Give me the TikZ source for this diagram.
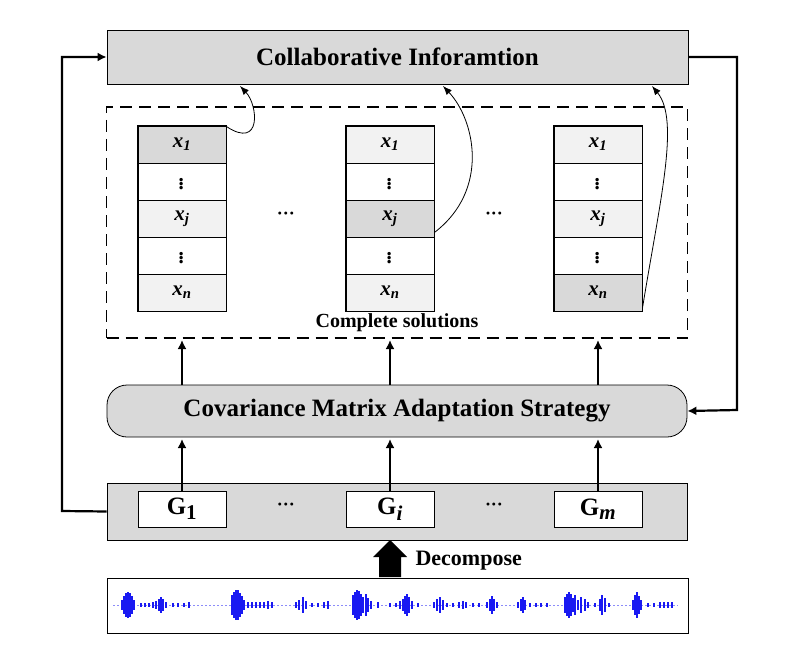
\documentclass[tikz,border=0pt]{standalone}
\usepackage{fontspec}
\setmainfont{Liberation Serif}
\usetikzlibrary{arrows.meta}
\definecolor{gA}{HTML}{D9D9D9}
\definecolor{gL}{HTML}{F2F2F2}
\definecolor{wav}{rgb}{0.1,0.1,0.95}
\begin{document}
\begin{tikzpicture}[x=1pt,y=-1pt,
  cell/.style={draw,line width=0.8pt,minimum width=88pt,minimum height=37pt,inner sep=0pt,font=\fontsize{21}{21}\selectfont\bfseries\itshape},
  colframe/.style={draw,line width=1.6pt},
  gbox/.style={draw,fill=white,line width=0.8pt,minimum width=88pt,minimum height=36pt,inner sep=0pt,font=\fontsize{25}{25}\selectfont\bfseries},
  arr/.style={line width=2.2pt,-{Latex[length=9pt,width=9pt]}},
  carr/.style={line width=0.8pt,-{Latex[length=9pt,width=7pt]}},
  dotsl/.style={font=\fontsize{18}{18}\selectfont\bfseries}]
\useasboundingbox (0,0) rectangle (789,663);
\node[draw,fill=gA,line width=0.8pt,minimum width=581pt,minimum height=54pt,inner sep=0pt,font=\fontsize{25}{25}\selectfont\bfseries] (ci) at (397.5,57) {Collaborative Inforamtion};
\node[draw,dashed,dash pattern=on 12pt off 7pt,line width=1.6pt,minimum width=581pt,minimum height=231pt,inner sep=0pt] (cs) at (397,222.5) {};
\node[font=\fontsize{20}{20}\selectfont\bfseries] (cst) at (397,323) {Complete solutions};
\foreach \c/\cx/\fa/\fb/\fc in {a/182/gA/gL/gL, b/390/gL/gA/gL, c/598/gL/gL/gA}{
  \node[cell,fill=\fa] (\c1) at (\cx,144.5) {x\textsubscript{1}};
  \node[cell,fill=white] (\c2) at (\cx,181.5) {$\vdots$};
  \node[cell,fill=\fb] (\c3) at (\cx,218.5) {x\textsubscript{j}};
  \node[cell,fill=white] (\c4) at (\cx,255.5) {$\vdots$};
  \node[cell,fill=\fc] (\c5) at (\cx,292.5) {x\textsubscript{n}};
  \draw[colframe] (\c1.north west) rectangle (\c5.south east);
}
\node[dotsl] (d1) at (286,216) {···};
\node[dotsl] (d2) at (494,216) {···};
\coordinate (ta) at (240,86);
\coordinate (tb) at (443,86);
\coordinate (tc) at (652,86);
\draw[carr] ([yshift=18pt]a1.east) .. controls (262,150) and (258,105) .. (ta);
\draw[carr] ([yshift=-14pt]b3.east) .. controls (490,190) and (475,120) .. (tb);
\draw[carr] ([yshift=-16pt]c5.east) .. controls (660,200) and (680,120) .. (tc);
\node[draw,fill=gA,line width=0.8pt,rounded corners=20pt,minimum width=580pt,minimum height=52pt,inner sep=0pt,font=\fontsize{25}{25}\selectfont\bfseries] (cma) at (397,411) {Covariance Matrix Adaptation Strategy};
\node[draw,fill=gA,line width=0.8pt,minimum width=580pt,minimum height=57pt,inner sep=0pt] (gbar) at (397,511.5) {};
\node[gbox] (g1) at (182,509) {G\textsubscript{\fontsize{21}{21}\selectfont 1}};
\node[gbox] (gi) at (390,509) {G\textsubscript{\fontsize{21}{21}\selectfont\itshape i}};
\node[gbox] (gm) at (598,509) {G\textsubscript{\fontsize{21}{21}\selectfont\itshape m}};
\node[dotsl] (d3) at (286,507) {···};
\node[dotsl] (d4) at (494,507) {···};
\foreach \n/\cx in {g1/182,gi/390,gm/598}{
  \draw[arr] (\n.north) -- (\cx,439);
  \draw[arr] (\cx,385) -- (\cx,340);
}
\draw[arr] (gbar.west) -- (62,511) -- (62,57) -- (ci.west);
\draw[arr] (ci.east) -- (737,57) -- (737,410) -- (cma.east);
\node[draw,line width=0.8pt,minimum width=581pt,minimum height=55pt,inner sep=0pt] (wbox) at (397.5,605.5) {};
\coordinate (dectip) at (390,540);
\fill (dectip) -- (407,557) -- (401,557) -- (401,577) -- (379,577) -- (379,557) -- (373,557) -- cycle;
\node[font=\fontsize{22}{22}\selectfont\bfseries,anchor=west] (dect) at (412,561) {Decompose};
\draw[wav!50,line width=0.6pt,dashed,dash pattern=on 2pt off 2pt] (113,605) -- (678,605);
\foreach \x/\h in {122/5,124/9,126/12,128/13,130/12,132/9,134/5,141/2,145/2,149/2,153/3,156/4,159/6,161/8,163/6,166/3,173/2,178/2,184/2,189/3,232/10,234/13,236/15,238/15,240/12,242/9,244/5,248/3,252/3,256/3,260/3,264/3,268/4,272/3,296/3,299/5,303/8,306/4,312/2,318/2,324/3,328/4,353/10,355/13,357/15,359/14,361/11,363/8,366/11,368/7,371/4,378/3,390/2,396/2,400/4,403/6,405/9,407/11,409/8,412/4,418/2,434/3,437/6,440/8,443/5,447/2,453/2,459/3,463/4,466/3,473/2,479/2,487/3,490/6,492/9,494/6,497/3,518/3,521/6,523/8,525/5,530/2,536/2,541/2,547/2,565/8,567/11,569/13,571/11,573/7,575/10,578/5,581/8,585/6,588/3,595/2,600/6,602/10,605/7,609/2,633/5,635/10,637/13,639/9,641/5,648/2,654/2,660/3,664/3,668/3,672/3}{
  \draw[wav,line width=1.1pt] (\x,605-\h) -- (\x,605+\h);
}
\end{tikzpicture}
\end{document}
